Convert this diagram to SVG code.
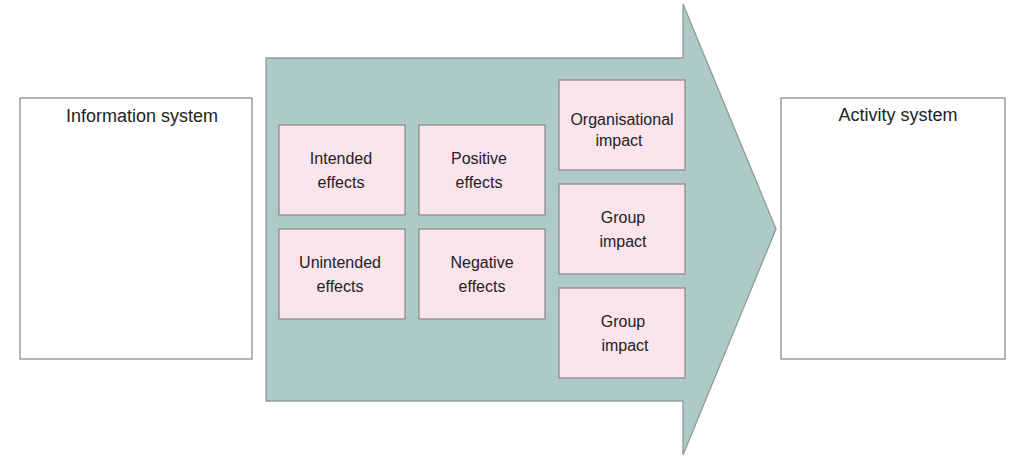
<svg xmlns="http://www.w3.org/2000/svg" width="1023" height="457" viewBox="0 0 1023 457">
<style>
.sys{fill:#ffffff;stroke:#8c8c8c;stroke-width:1.3}
.box{fill:#fbe4ec;stroke:#8c8c8c;stroke-width:1.3}
.t{font-family:"Liberation Sans",Arial,sans-serif;fill:#222;text-anchor:middle}
.big{font-size:18px}
.sm{font-size:16px}
</style>
<rect width="1023" height="457" fill="#ffffff"/>
<g id="connectors">
<polygon points="266,58 683,58 683,4 776,229 683,455 683,401 266,401" fill="#aecac5" stroke="#8e9c99" stroke-width="1.3"/>
</g>
<g id="information-system">
<rect class="sys" x="20" y="98" width="232" height="261"/>
<text class="t big" x="142" y="122">Information system</text>
</g>
<g id="activity-system">
<rect class="sys" x="781" y="98" width="224" height="261"/>
<text class="t big" x="898" y="121">Activity system</text>
</g>
<g id="intended-effects">
<rect class="box" x="279" y="125" width="126" height="90"/>
<text class="t sm" x="341" y="164">Intended</text>
<text class="t sm" x="341" y="188">effects</text>
</g>
<g id="positive-effects">
<rect class="box" x="419" y="125" width="126" height="90"/>
<text class="t sm" x="479" y="164">Positive</text>
<text class="t sm" x="479" y="188">effects</text>
</g>
<g id="unintended-effects">
<rect class="box" x="279" y="229" width="126" height="90"/>
<text class="t sm" x="340" y="268">Unintended</text>
<text class="t sm" x="340" y="292">effects</text>
</g>
<g id="negative-effects">
<rect class="box" x="419" y="229" width="126" height="90"/>
<text class="t sm" x="482" y="268">Negative</text>
<text class="t sm" x="482" y="292">effects</text>
</g>
<g id="organisational-impact">
<rect class="box" x="559" y="80" width="126" height="90"/>
<text class="t sm" x="622" y="125">Organisational</text>
<text class="t sm" x="619" y="146">impact</text>
</g>
<g id="group-impact-1">
<rect class="box" x="559" y="184" width="126" height="90"/>
<text class="t sm" x="623" y="223">Group</text>
<text class="t sm" x="623" y="247">impact</text>
</g>
<g id="group-impact-2">
<rect class="box" x="559" y="288" width="126" height="90"/>
<text class="t sm" x="623" y="327">Group</text>
<text class="t sm" x="625" y="351">impact</text>
</g>
</svg>
